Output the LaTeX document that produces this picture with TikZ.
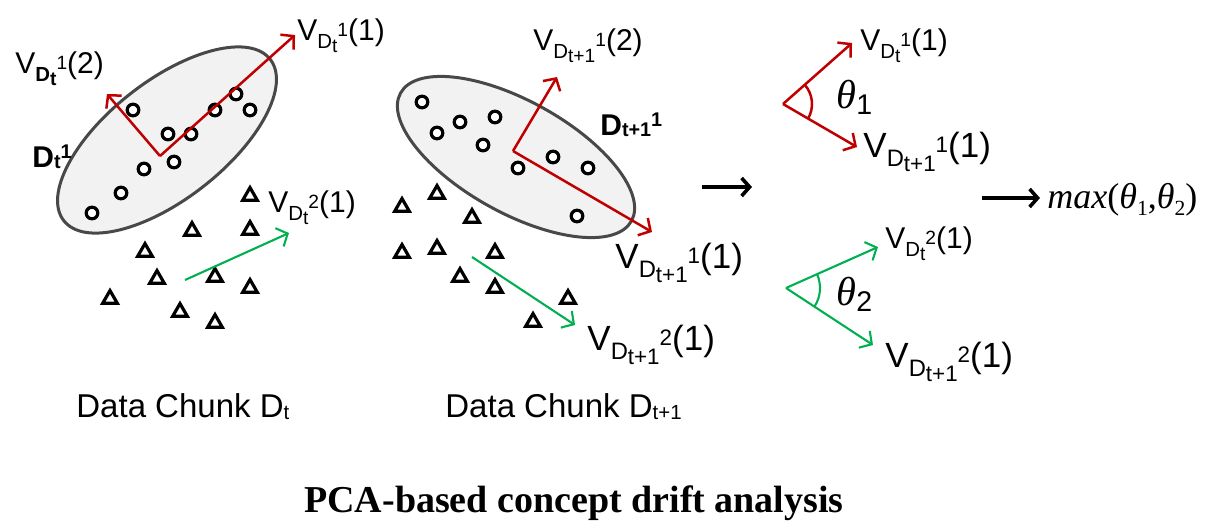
\documentclass[tikz,border=0pt]{standalone}
\usepackage{fontspec}
\setmainfont{Liberation Sans}
\newfontfamily\tms{Liberation Serif}
\usetikzlibrary{arrows.meta,shapes.geometric,angles}
\definecolor{myred}{RGB}{192,0,0}
\definecolor{mygreen}{RGB}{0,176,80}
\definecolor{ellfill}{RGB}{242,242,242}
\definecolor{ellline}{RGB}{72,72,72}
\makeatletter
\newcommand{\rs}[1]{\fontsize{\fpeval{#1*\f@size}}{\fpeval{#1*\f@size*1.2}}\selectfont}
\makeatother
% V_{D_#1}^{#2}(#3)
\newcommand{\VV}[3]{V\raisebox{-0.28em}{\rs{0.68}D}\raisebox{-0.40em}{\rs{0.64}#1}\raisebox{0.13em}{\rs{0.64}#2}(#3)}
\newcommand{\VVb}[3]{V\raisebox{-0.28em}{\rs{0.68}\bfseries D}\raisebox{-0.40em}{\rs{0.64}\bfseries #1}\raisebox{0.13em}{\rs{0.64}#2}(#3)}
\newcommand{\DD}[1]{{\bfseries D\raisebox{-0.04em}{\rs{0.66}#1}\raisebox{0.28em}{\rs{0.66}1}}}
\newcommand{\thlab}[1]{{\tms\itshape\rs{1.35}\char"03B8}\raisebox{-0.2em}{\rs{0.95}#1}}
\tikzset{
  pt/.style={circle,draw=black,fill=white,line width=1.6pt,minimum size=5.8pt,inner sep=0pt},
  tri/.style={regular polygon,regular polygon sides=3,draw=black,fill=white,line width=1.6pt,minimum size=8.4pt,inner sep=0pt},
  lab/.style={anchor=base west,inner sep=0pt,font=\fontsize{15}{18}\selectfont},
  biglab/.style={anchor=base west,inner sep=0pt,font=\fontsize{17.5}{21}\selectfont},
  redarr/.style={draw=myred,line width=1.25pt,-{Straight Barb[length=4.5pt,width=10pt]}},
  grnarr/.style={draw=mygreen,line width=1.05pt,-{Straight Barb[length=4.5pt,width=10pt]}},
  blkarr/.style={draw=black,line width=1.8pt,-{Straight Barb[length=4pt,width=9pt]}},
  ell/.style={draw=ellline,fill=ellfill,line width=1.5pt}
}
\begin{document}
\begin{tikzpicture}[x=0.5pt,y=0.5pt]
\useasboundingbox (0,0) rectangle (1219,-531);
% ---------- panel 1 ----------
\draw[ell,rotate around={38:(167,-140)}] (167,-140) ellipse (131 and 59);
\foreach \n/\x/\y in {1/133/110,2/168/134,3/191/134,4/215/110,5/236/94,6/250/110,7/174/162,8/144/169,9/121/193,10/92/213}
  \node[pt] (c\n) at (\x,-\y) {};
\foreach \n/\x/\y in {1/250/196,2/192/231,3/250/230,4/145/252,5/157/279,6/215/277,7/250/288,8/110/299,9/180/312,10/215/323}
  \node[tri] (t\n) at (\x,-\y) {};
\coordinate (o1) at (160,-156);
\coordinate (a11) at (295,-35);
\coordinate (a12) at (107,-94);
\draw[redarr] (o1) -- (a11);
\draw[redarr] (o1) -- (a12);
\coordinate (g1s) at (185,-280);
\coordinate (g1e) at (289,-233);
\draw[grnarr] (g1s) -- (g1e);
\node[lab] (l11) at (297,-40) {\VV{t}{1}{1}};
\node[lab] (l12) at (15,-73) {\VVb{t}{1}{2}};
\node[lab] (ld1) at (32,-167) {\DD{t}};
\node[lab] (l21) at (268,-212) {\VV{t}{2}{1}};
\node[anchor=base west,inner sep=0pt,font=\fontsize{16.5}{20}\selectfont] (dc1) at (76,-417) {Data Chunk D\raisebox{-0.08em}{\rs{0.62}t}};
% ---------- panel 2 ----------
\draw[ell,rotate around={-29:(516,-157)}] (516,-157) ellipse (132 and 56);
\foreach \n/\x/\y in {1/422/102,2/460/122,3/495/117,4/437/133,5/483/145,6/518/168,7/553/157,8/588/168,9/577/216}
  \node[pt] (d\n) at (\x,-\y) {};
\foreach \n/\x/\y in {1/437/194,2/402/207,3/472/218,4/402/253,5/437/249,6/495/253,7/460/277,8/495/288,9/568/299,10/533/322}
  \node[tri] (u\n) at (\x,-\y) {};
\coordinate (o2) at (513,-151);
\coordinate (a21) at (652,-232);
\coordinate (a22) at (557,-77);
\draw[redarr] (o2) -- (a21);
\draw[redarr] (o2) -- (a22);
\coordinate (g2s) at (472,-257);
\coordinate (g2e) at (575,-325);
\draw[grnarr] (g2s) -- (g2e);
\node[lab] (m12) at (533,-50) {\VV{t+1}{1}{2}};
\node[lab] (ld2) at (600,-135) {\DD{t+1}};
\node[biglab] (m11) at (615,-268) {\VV{t+1}{1}{1}};
\node[biglab] (m21) at (587,-350) {\VV{t+1}{2}{1}};
\node[anchor=base west,inner sep=0pt,font=\fontsize{16.5}{20}\selectfont] (dc2) at (445,-417) {Data Chunk D\raisebox{-0.08em}{\rs{0.62}t+1}};
% ---------- arrows between ----------
\coordinate (b1s) at (702,-187);
\coordinate (b1e) at (752,-187);
\draw[blkarr] (b1s) -- (b1e);
% ---------- panel 3 ----------
\coordinate (v1) at (783,-104);
\coordinate (r1u) at (852,-43);
\coordinate (r1d) at (857,-147);
\draw[redarr] (v1) -- (r1u);
\draw[redarr] (v1) -- (r1d);
\pic[draw=myred,line width=1.25pt,angle radius=14.5pt] {angle = r1d--v1--r1u};
\node[lab] (th1) at (836,-108) {\thlab{1}};
\node[lab] (n11) at (860,-50) {\VV{t}{1}{1}};
\node[biglab] (n12) at (863,-157) {\VV{t+1}{1}{1}};
\coordinate (v2) at (786,-288);
\coordinate (g3u) at (878,-247);
\coordinate (g3d) at (873,-345);
\draw[grnarr] (v2) -- (g3u);
\draw[grnarr] (v2) -- (g3d);
\pic[draw=mygreen,line width=1.05pt,angle radius=17pt] {angle = g3d--v2--g3u};
\node[lab] (th2) at (836,-305) {\thlab{2}};
\node[lab] (n21) at (885,-248) {\VV{t}{2}{1}};
\node[biglab] (n22) at (885,-367) {\VV{t+1}{2}{1}};
\coordinate (b2s) at (982,-198);
\coordinate (b2e) at (1040,-198);
\draw[blkarr] (b2s) -- (b2e);
\node[anchor=base west,inner sep=0pt,font=\tms\fontsize{18}{22}\selectfont] (mx) at (1047,-208)
  {\textit{max}(\textit{\char"03B8}\raisebox{-0.2em}{\rs{0.6}1},\textit{\char"03B8}\raisebox{-0.2em}{\rs{0.6}2})};
% ---------- title ----------
\node[anchor=base,inner sep=0pt,font=\tms\bfseries\fontsize{19}{23}\selectfont] (title) at (574,-512) {PCA-based concept drift analysis};
\end{tikzpicture}
\end{document}
